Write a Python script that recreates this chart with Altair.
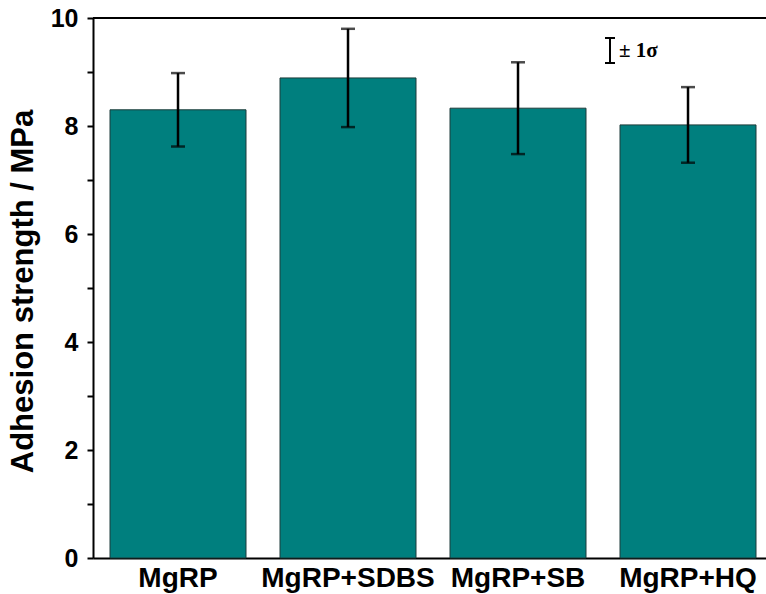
import altair as alt
import pandas as pd

categories = ["MgRP", "MgRP+SDBS", "MgRP+SB", "MgRP+HQ"]
means = [8.30, 8.89, 8.33, 8.02]
sds = [0.68, 0.91, 0.85, 0.70]

df = pd.DataFrame({
    "cat": categories,
    "mean": means,
    "lo": [m - s for m, s in zip(means, sds)],
    "hi": [m + s for m, s in zip(means, sds)],
})

FONT = "Liberation Sans"
TEAL = "#007F7E"

x = alt.X("cat:N", sort=categories,
          scale=alt.Scale(paddingInner=0.2, paddingOuter=0.0794, align=0.63),
          axis=alt.Axis(title=None, labelAngle=0, ticks=False, domainColor="black",
                        domainWidth=2, labelFont=FONT, labelFontWeight="bold",
                        labelFontSize=28, labelColor="black", labelPadding=6))
y = alt.Y("mean:Q", scale=alt.Scale(domain=[0, 10], nice=False),
          axis=alt.Axis(title="Adhesion strength / MPa", values=list(range(0, 11)),
                        labelExpr="datum.value % 2 == 0 ? datum.label : ''",
                        grid=False, domainColor="black", domainWidth=2,
                        tickColor="black", tickWidth=2, tickSize=6,
                        labelFont=FONT, labelFontWeight="bold", labelFontSize=25,
                        labelColor="black", labelPadding=9,
                        titleFont=FONT, titleFontWeight="bold", titleFontSize=31,
                        titleColor="black", titleX=-70, titleY=273,
                        titleAngle=-90, titleAlign="center", titleBaseline="middle"))

base = alt.Chart(df)
bars = base.mark_bar(color=TEAL, stroke="#1d3b3a", strokeWidth=1).encode(x=x, y=y)
err = base.mark_rule(color="black", strokeWidth=2.5).encode(
    x=alt.X("cat:N", sort=categories), y="lo:Q", y2="hi:Q")
cap_hi = base.mark_tick(color="black", size=14, thickness=2.5).encode(
    x=alt.X("cat:N", sort=categories), y="hi:Q")
cap_lo = base.mark_tick(color="black", size=14, thickness=2.5).encode(
    x=alt.X("cat:N", sort=categories), y="lo:Q")

top_line = alt.Chart(pd.DataFrame({"a": [0]})).mark_rule(color="black", strokeWidth=2).encode(
    x=alt.value(0), x2=alt.value(700), y=alt.value(0))

leg_df = pd.DataFrame({"a": [0]})
leg_v = alt.Chart(leg_df).mark_rule(color="black", strokeWidth=2).encode(
    x=alt.value(517), y=alt.value(20), y2=alt.value(45))
leg_t = alt.Chart(leg_df).mark_rule(color="black", strokeWidth=2).encode(
    x=alt.value(512), x2=alt.value(522), y=alt.value(20))
leg_b = alt.Chart(leg_df).mark_rule(color="black", strokeWidth=2).encode(
    x=alt.value(512), x2=alt.value(522), y=alt.value(45))
leg_txt = alt.Chart(leg_df).mark_text(text="± 1σ", font="Liberation Serif", fontWeight="bold",
                                      fontSize=21, align="left", baseline="middle",
                                      color="black").encode(
    x=alt.value(526), y=alt.value(33))

chart = alt.layer(bars, err, cap_hi, cap_lo, top_line, leg_v, leg_t, leg_b, leg_txt).properties(
    width=673, height=540,
    autosize=alt.AutoSizeParams(type="none"),
    padding={"left": 93, "top": 18, "right": 0, "bottom": 36},
).configure_view(stroke=None).configure(background="white")

chart.save("out.html", embed_options={"renderer": "svg", "actions": False})
